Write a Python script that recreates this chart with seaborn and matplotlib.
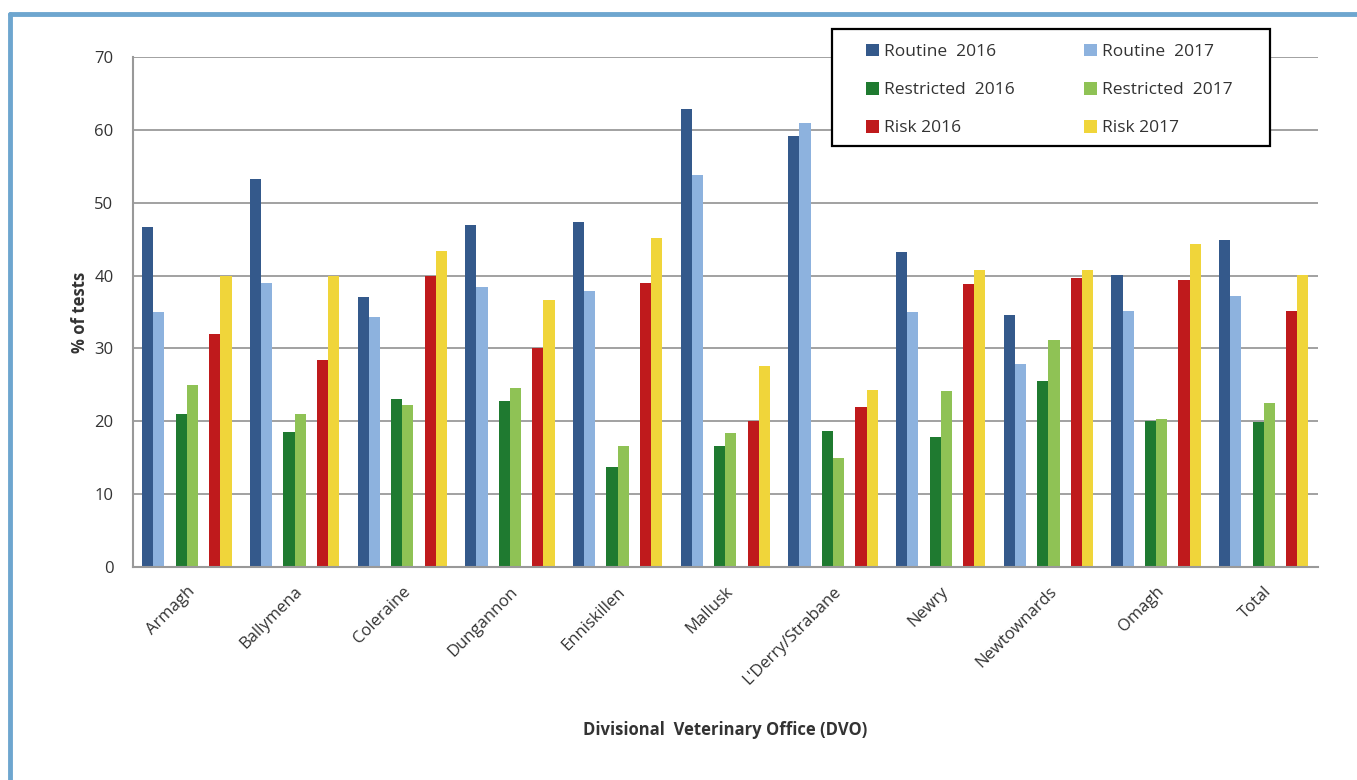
import matplotlib
matplotlib.use("Agg")
import matplotlib.pyplot as plt
from matplotlib.lines import Line2D
from matplotlib.patches import Patch, Rectangle
import seaborn as sns
import pandas as pd

sns.set_style("white")
plt.rcParams["font.family"] = ["Open Sans", "DejaVu Sans"]

# Data (% of tests)
dvos = ["Armagh", "Ballymena", "Coleraine", "Dungannon", "Enniskillen", "Mallusk",
        "L'Derry/Strabane", "Newry", "Newtownards", "Omagh", "Total"]
routine_2016 = [46.7, 53.2, 37.0, 47.0, 47.3, 62.9, 59.1, 43.2, 34.6, 40.1, 44.9]
routine_2017 = [35.0, 39.0, 34.3, 38.4, 37.9, 53.8, 60.9, 35.0, 27.8, 35.2, 37.2]
restricted_2016 = [21.0, 18.5, 23.1, 22.8, 13.7, 16.6, 18.7, 17.8, 25.5, 20.1, 19.9]
restricted_2017 = [25.0, 21.0, 22.2, 24.6, 16.6, 18.4, 14.9, 24.1, 31.1, 20.3, 22.5]
risk_2016 = [32.0, 28.4, 40.0, 30.0, 39.0, 20.0, 21.9, 38.8, 39.6, 39.4, 35.1]
risk_2017 = [40.0, 40.0, 43.4, 36.7, 45.2, 27.6, 24.3, 40.8, 40.8, 44.3, 40.1]

series = {
    "Routine  2016": routine_2016,
    "Routine  2017": routine_2017,
    "Restricted  2016": restricted_2016,
    "Restricted  2017": restricted_2017,
    "Risk 2016": risk_2016,
    "Risk 2017": risk_2017,
}
colors = {
    "Routine  2016": "#34598b",
    "Routine  2017": "#8db2de",
    "Restricted  2016": "#1f7a30",
    "Restricted  2017": "#8fc255",
    "Risk 2016": "#bf1a1c",
    "Risk 2017": "#f0d53a",
    "gap1": "white",
    "gap2": "white",
}
# empty "gap" levels give the spacing between the three pairs of bars
hue_order = ["Routine  2016", "Routine  2017", "gap1",
             "Restricted  2016", "Restricted  2017", "gap2",
             "Risk 2016", "Risk 2017"]

rows = []
for name, vals in series.items():
    for d, v in zip(dvos, vals):
        rows.append({"dvo": d, "series": name, "value": v})
for g in ["gap1", "gap2"]:
    for d in dvos:
        rows.append({"dvo": d, "series": g, "value": 0.0})
df = pd.DataFrame(rows)

fig = plt.figure(figsize=(13.57, 7.8), dpi=100)
ax = fig.add_axes([0.098, 0.273, 0.873, 0.654])

sns.barplot(data=df, x="dvo", y="value", hue="series", hue_order=hue_order,
            order=dvos, palette=colors, saturation=1, width=0.83, linewidth=0,
            legend=False, ax=ax)

ax.set_ylim(0, 70)
ax.set_xlim(-0.5, len(dvos) - 0.5)
ax.set_yticks(range(0, 71, 10))
ax.yaxis.grid(True, color="#9a9a9a", linewidth=1.3)
ax.set_axisbelow(True)

for s in ["top", "right"]:
    ax.spines[s].set_visible(False)
for s in ["left", "bottom"]:
    ax.spines[s].set_color("#999999")
    ax.spines[s].set_linewidth(1.5)

text_col = "#333333"
ax.tick_params(axis="y", length=6, width=1.3, color="#999999",
               labelsize=12, labelcolor=text_col, pad=8)
ax.set_xticks(range(len(dvos)))
ax.set_xticklabels(dvos, rotation=45, ha="right", rotation_mode="anchor",
                   fontsize=12, color=text_col)
ax.tick_params(axis="x", which="major", length=0, pad=12)
ax.set_xticks([i - 0.5 for i in range(len(dvos) + 1)], minor=True)
ax.tick_params(axis="x", which="minor", length=6, width=1.3, color="#999999")

ax.set_xlabel("Divisional  Veterinary Office (DVO)", fontsize=12,
              fontweight="bold", color=text_col, labelpad=24)
ax.set_ylabel("% of tests", fontsize=12, fontweight="bold", color=text_col,
              labelpad=4)

order = ["Routine  2016", "Restricted  2016", "Risk 2016",
         "Routine  2017", "Restricted  2017", "Risk 2017"]
handles = [Patch(facecolor=colors[n], edgecolor="none") for n in order]
leg = fig.legend(handles, order, ncol=2, loc="upper left",
                 bbox_to_anchor=(0.638, 0.944), bbox_transform=fig.transFigure,
                 fontsize=12.5, frameon=False,
                 handlelength=0.75, handleheight=0.75, handletextpad=0.3,
                 labelspacing=1.25, borderpad=0, borderaxespad=0,
                 columnspacing=4.0)
for t in leg.get_texts():
    t.set_color(text_col)

# legend box drawn on its own so its padding matches the original
fig.add_artist(Rectangle((832 / 1357, 1 - 146 / 780), 438 / 1357, 117 / 780,
                         transform=fig.transFigure, facecolor="white",
                         edgecolor="black", linewidth=1.6, zorder=2))
leg.set_zorder(3)

# light blue frame on the top and left edges
frame_col = "#6ea6cf"
fig.add_artist(Line2D([0.0075, 1.0], [0.9825, 0.9825], transform=fig.transFigure,
                      color=frame_col, linewidth=3.5))
fig.add_artist(Line2D([0.0075, 0.0075], [0.0, 0.9825], transform=fig.transFigure,
                      color=frame_col, linewidth=3.5))

fig.savefig("out.png", dpi=100)
